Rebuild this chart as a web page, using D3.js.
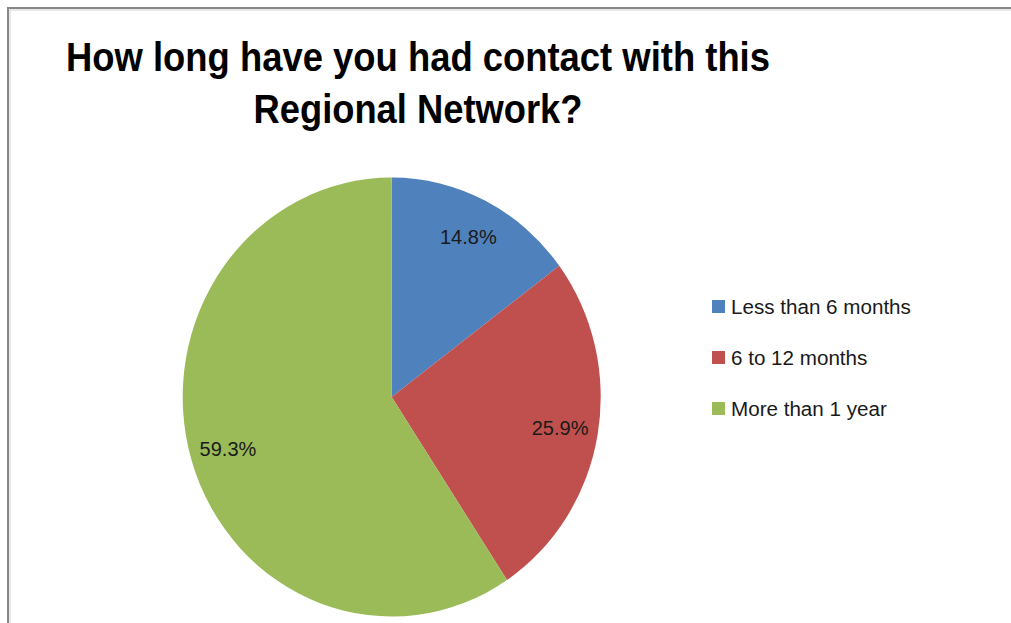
<!DOCTYPE html>
<html>
<head>
<meta charset="utf-8">
<script src="https://cdn.jsdelivr.net/npm/d3@7/dist/d3.min.js"></script>
<style>
  html, body { margin: 0; padding: 0; background: #ffffff; }
  svg { display: block; }
</style>
</head>
<body>
<svg id="chart" width="1011" height="623"></svg>
<script>
// Survey responses: how long respondents have been in contact with the network
const categories = ["Less than 6 months", "6 to 12 months", "More than 1 year"];
const shares = [14.8, 25.9, 59.3];
const colors = ["#4F81BD", "#C0504D", "#9BBB59"];
const titleLines = ["How long have you had contact with this", "Regional Network?"];

const svg = d3.select("#chart");
const W = 1011, H = 623;

// chart frame (runs off the right and bottom edges)
svg.append("rect")
  .attr("x", 8).attr("y", 8).attr("width", 1200).attr("height", 800)
  .attr("fill", "#ffffff").attr("stroke", "#888888").attr("stroke-width", 2);
svg.append("rect")
  .attr("x", 10).attr("y", 10).attr("width", 1200).attr("height", 800)
  .attr("fill", "none").attr("stroke", "#d4d4d4").attr("stroke-width", 1);

// title
const titleFont = "'Liberation Sans Narrow', 'Liberation Sans', Arial, sans-serif";
const title = svg.append("g").attr("class", "title");
const titleWidths = [704, 329];
const titleBaselines = [71, 123];
titleLines.forEach((t, i) => {
  const el = title.append("text")
    .attr("x", 418).attr("y", titleBaselines[i])
    .attr("text-anchor", "middle")
    .attr("font-family", titleFont)
    .attr("font-weight", "bold")
    .attr("font-size", 40)
    .attr("fill", "#000000")
    .text(t);
  const w = el.node().getComputedTextLength();
  if (Math.abs(w - titleWidths[i]) > 4) {
    el.attr("textLength", titleWidths[i]).attr("lengthAdjust", "spacingAndGlyphs");
  }
});

// pie (slightly taller than wide)
const cx = 391.7, cy = 397, rx = 209, ry = 219.5;
const pie = d3.pie().sort(null).startAngle(0).endAngle(2 * Math.PI).value(d => d);
const arcs = pie(shares);
const arc = d3.arc().innerRadius(0).outerRadius(rx);
const labelArc = d3.arc().innerRadius(rx * 0.818).outerRadius(rx * 0.818);

const pieG = svg.append("g")
  .attr("transform", `translate(${cx},${cy}) scale(1,${ry / rx})`);
pieG.selectAll("path")
  .data(arcs)
  .join("path")
  .attr("d", arc)
  .attr("fill", (d, i) => colors[i]);

// value labels (placed on the stretched pie, but drawn unscaled)
const labelFont = "'Liberation Sans', Arial, sans-serif";
svg.append("g").selectAll("text")
  .data(arcs)
  .join("text")
  .attr("x", d => cx + labelArc.centroid(d)[0])
  .attr("y", d => cy + labelArc.centroid(d)[1] * ry / rx)
  .attr("text-anchor", "middle")
  .attr("dominant-baseline", "central")
  .attr("font-family", labelFont)
  .attr("font-size", 20)
  .attr("fill", "#1a1a1a")
  .text(d => d.data.toFixed(1) + "%");

// legend
const legendY = d3.scalePoint().domain(categories).range([306.5, 408.5]);
const legend = svg.append("g");
const rows = legend.selectAll("g")
  .data(categories)
  .join("g")
  .attr("transform", d => `translate(712,${legendY(d)})`);
rows.append("rect")
  .attr("x", 0).attr("y", -6.5).attr("width", 13).attr("height", 13)
  .attr("fill", (d, i) => colors[i]);
const legendText = rows.append("text")
  .attr("x", 19).attr("y", 0)
  .attr("dominant-baseline", "central")
  .attr("font-family", labelFont)
  .attr("font-size", 18)
  .attr("fill", "#1a1a1a")
  .text(d => d);
// size legend text so the first entry spans its measured width
const w0 = legendText.nodes()[0].getComputedTextLength();
const legendSize = Math.min(22, Math.max(16, 18 * 180 / w0));
legendText.attr("font-size", legendSize);
</script>
</body>
</html>
